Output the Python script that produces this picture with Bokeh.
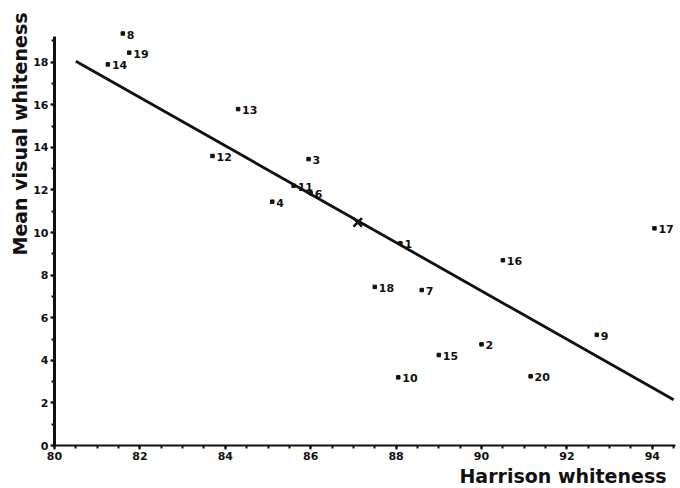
from bokeh.plotting import figure
from bokeh.models import ColumnDataSource, Range1d, FixedTicker, Title
from bokeh.core.properties import value
from bokeh.embed import file_html
from bokeh.resources import INLINE

# Data
labels = ["1", "2", "3", "4", "6", "7", "8", "9", "10", "11",
          "12", "13", "14", "15", "16", "17", "18", "19", "20"]
harrison = [88.1, 90.0, 85.95, 85.1, 86.0, 88.6, 81.6, 92.7, 88.05, 85.6,
            83.7, 84.3, 81.25, 89.0, 90.5, 94.05, 87.5, 81.75, 91.15]
visual = [9.5, 4.75, 13.45, 11.45, 11.85, 7.3, 19.35, 5.2, 3.2, 12.2,
          13.6, 15.8, 17.9, 4.25, 8.7, 10.2, 7.45, 18.45, 3.25]

fit_x = [80.5, 94.5]
fit_y = [18.05, 2.15]

mean_x = [87.1]
mean_y = [10.48]

x_ticks = [80, 82, 84, 86, 88, 90, 92, 94]
y_ticks = [0, 2, 4, 6, 8, 10, 12, 14, 16, 18]

INK = "#111111"
FONT = "DejaVu Sans"

p = figure(width=680, height=488, output_backend="svg", toolbar_location=None,
           x_range=Range1d(80, 94.66), y_range=Range1d(0, 20.9),
           min_border_left=54, min_border_right=0, min_border_top=0,
           min_border_bottom=43)
p.outline_line_color = None
p.grid.visible = False
p.background_fill_color = "white"
p.border_fill_color = "white"

src = ColumnDataSource(dict(x=harrison, y=visual, t=labels))
p.line(fit_x, fit_y, line_color=INK, line_width=2.8)
p.scatter("x", "y", source=src, marker="square", size=3.5,
          fill_color=INK, line_color=INK)
p.text("x", "y", text="t", source=src, x_offset=4, y_offset=1,
       text_baseline="middle", text_align="left",
       text_font=value(FONT), text_font_size="11px", text_font_style="bold",
       text_color=INK)
p.scatter(mean_x, mean_y, marker="x", size=12, line_color=INK, line_width=2.5)

for ax in (p.xaxis[0], p.yaxis[0]):
    ax.major_tick_in = 0
    ax.minor_tick_in = 0
    ax.major_tick_out = 4
    ax.minor_tick_out = 3
    ax.major_tick_line_color = INK
    ax.minor_tick_line_color = INK
    ax.major_tick_line_width = 2
    ax.minor_tick_line_width = 2
    ax.axis_line_color = INK
    ax.major_label_text_font = FONT
    ax.major_label_text_font_size = "11px"
    ax.major_label_text_font_style = "bold"
    ax.major_label_text_color = INK

p.xaxis.ticker = FixedTicker(ticks=x_ticks, minor_ticks=[80 + 0.5 * i for i in range(30)])
p.yaxis.ticker = FixedTicker(ticks=y_ticks, minor_ticks=list(range(0, 20)))
p.xaxis.bounds = (80, 94.55)
p.yaxis.bounds = (0, 19.2)
p.xaxis.axis_line_width = 2
p.yaxis.axis_line_width = 3
p.xaxis.major_label_standoff = 2
p.yaxis.major_label_standoff = 2

p.add_layout(Title(text="Harrison whiteness", align="right", text_font=FONT,
                   text_font_size="19px", text_font_style="bold",
                   text_color=INK, standoff=0, offset=14), "below")
p.add_layout(Title(text="Mean visual whiteness", align="right", text_font=FONT,
                   text_font_size="19px", text_font_style="bold",
                   text_color=INK, standoff=0, offset=12), "left")

open("out.html", "w").write(file_html(p, INLINE))
